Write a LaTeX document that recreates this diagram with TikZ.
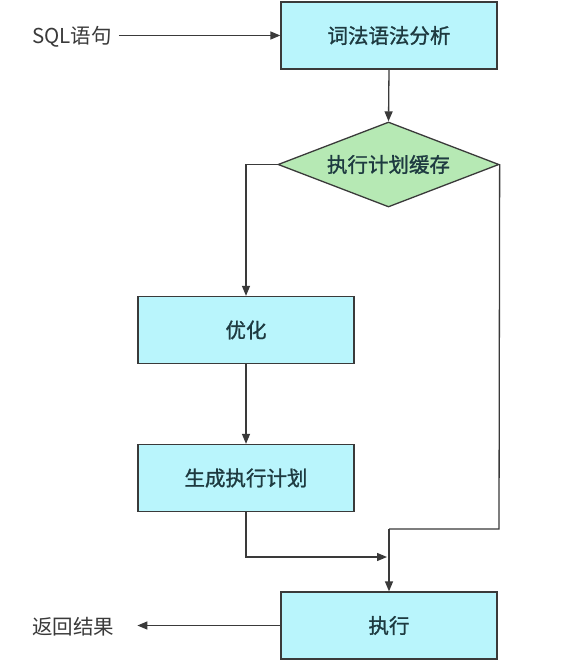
\documentclass[tikz,border=0pt]{standalone}
\usepackage{fontspec}
\newfontfamily\cjk[FakeBold=1.2]{Noto Sans CJK SC}
\newfontfamily\cjklight{Noto Sans CJK SC}
\usetikzlibrary{shapes.geometric,arrows.meta}
\definecolor{boxfill}{HTML}{B9F5FC}
\definecolor{diafill}{HTML}{B6E9B4}
\definecolor{edge}{HTML}{3A3A3A}
\definecolor{boxtext}{HTML}{1E3A40}
\definecolor{lbltext}{HTML}{3A3A3A}
\begin{document}
\begin{tikzpicture}[x=1pt,y=-1pt,
  procbox/.style={draw=edge,line width=1.3pt,fill=boxfill,minimum width=216pt,minimum height=67pt,inner sep=0pt,font=\cjk\fontsize{20.5}{24}\selectfont,text=boxtext},
  decision/.style={diamond,draw=edge,line width=1.3pt,fill=diafill,aspect=2.6,minimum width=221pt,minimum height=85pt,inner sep=0pt,font=\cjk\fontsize{20.5}{24}\selectfont,text=boxtext},
  lbl/.style={font=\cjklight\fontsize{20.5}{24}\selectfont,text=lbltext,inner sep=3pt},
  arr/.style={draw=edge,line width=1.3pt,-{Triangle[length=10pt,width=8pt]}},
  ln/.style={draw=edge,line width=1.3pt}]
\useasboundingbox[fill=white] (0,0) rectangle (560,671);
\node[procbox] (lex) at (389,35.5) {词法语法分析};
\node[decision] (cache) at (388.5,164.5) {执行计划缓存};
\node[procbox] (opt) at (246,330) {优化};
\node[procbox] (gen) at (246,478) {生成执行计划};
\node[procbox] (exec) at (389,625.5) {执行};
\node[lbl,anchor=west] (sql) at (29,37) {SQL语句};
\node[lbl,anchor=west] (ret) at (29,627) {返回结果};
\coordinate (rc) at (499,529);
\coordinate (lc) at (389,529);
\coordinate (gc) at (246,557);
\coordinate (mc) at (387,557);
\draw[arr] ([xshift=4pt]sql.east |- lex.west) -- (lex.west);
\draw[arr] (lex.south) -- (cache.north);
\draw[arr] (cache.west) -| (opt.north);
\draw[arr] (opt.south) -- (gen.north);
\draw[arr] (gen.south) -- (gc) -- (mc);
\draw[ln] (cache.east) -- (rc) -- (lc);
\draw[arr] (lc) -- (exec.north);
\draw[arr] (exec.west) -- ([xshift=20pt]ret.east |- exec.west);
\end{tikzpicture}
\end{document}
